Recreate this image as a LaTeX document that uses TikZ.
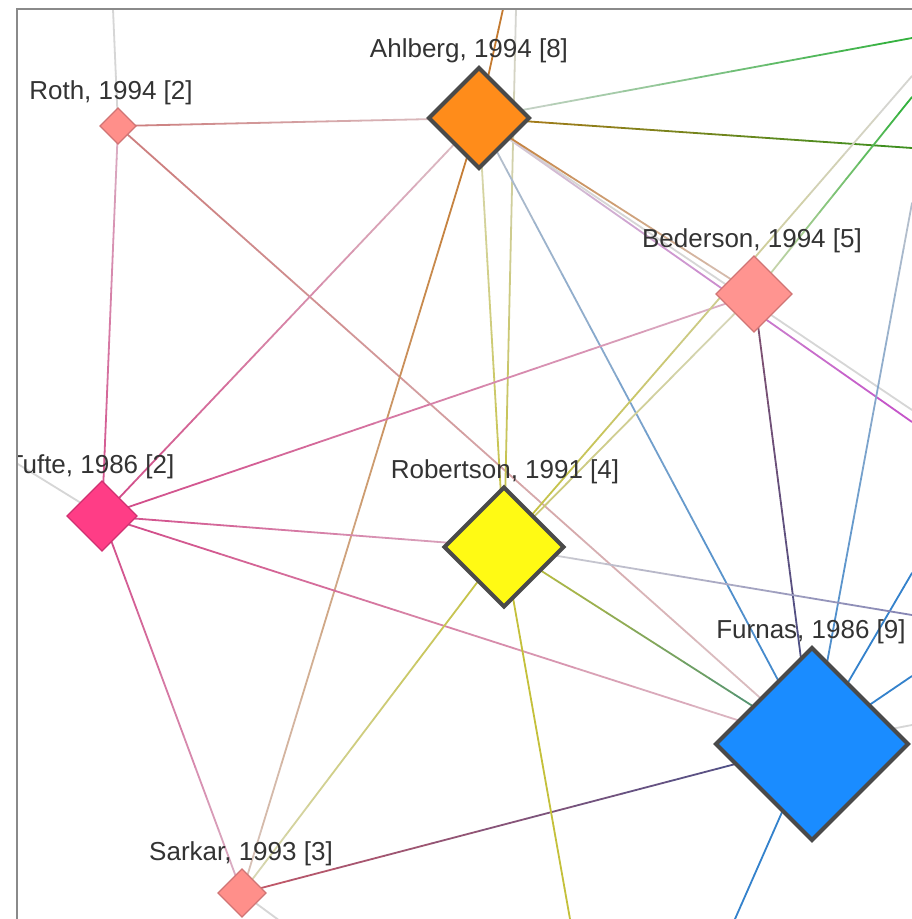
\documentclass[tikz,border=0pt]{standalone}
\usepackage{fontspec}
\setmainfont{Liberation Sans}
\usetikzlibrary{shapes.geometric,calc}

\definecolor{txt}{HTML}{333333}
\definecolor{framec}{HTML}{8A8A8A}
\definecolor{darkb}{HTML}{4A4A4A}
\definecolor{salmon}{HTML}{FF8F8A}
\definecolor{salmonb}{HTML}{D07474}
\definecolor{orangef}{HTML}{FF8C1A}
\definecolor{bedf}{HTML}{FF9490}
\definecolor{tuftef}{HTML}{FF3D86}
\definecolor{tufteb}{HTML}{D03070}
\definecolor{yellowf}{HTML}{FFFA14}
\definecolor{bluef}{HTML}{1A8CFF}
% edge colours
\definecolor{lg}{HTML}{D6D6D6}
\definecolor{redE}{HTML}{CC7C7C}
\definecolor{paleP}{HTML}{DCC4C8}
\definecolor{pinkE}{HTML}{D24A88}
\definecolor{palePink}{HTML}{DAB0C4}
\definecolor{brownE}{HTML}{C47A30}
\definecolor{paleBr}{HTML}{D8C4BC}
\definecolor{oliveE}{HTML}{C4C03A}
\definecolor{paleOl}{HTML}{D8D8B8}
\definecolor{greenE}{HTML}{2EB03A}
\definecolor{dgreenE}{HTML}{3A9020}
\definecolor{brown2}{HTML}{B07818}
\definecolor{purpE}{HTML}{C450C8}
\definecolor{blueE}{HTML}{3482CC}
\definecolor{paleBl}{HTML}{B8C0CC}
\definecolor{maroonE}{HTML}{84506E}
\definecolor{navyE}{HTML}{40508C}
\definecolor{redS}{HTML}{C45868}
\definecolor{tealE}{HTML}{3A8A80}
\definecolor{lavE}{HTML}{8484B4}

\tikzset{
  edge/.style={line width=1.8pt, line cap=round},
  dia/.style={shape=diamond, inner sep=0pt, outer sep=0pt, aspect=1,
              minimum width=#1, minimum height=#1},
  thinb/.style={line width=1.2pt},
  thickb/.style={draw=darkb, line width=4pt},
  lbl/.style={anchor=base, text=txt, inner sep=0pt,
              font=\fontsize{26}{30}\selectfont}
}

\newcommand{\gedge}[4]{%
  \foreach \kk in {0,...,11}{%
    \pgfmathsetmacro{\gA}{\kk/12}%
    \pgfmathsetmacro{\gB}{(\kk+1)/12}%
    \pgfmathtruncatemacro{\gP}{round(100-(\kk+0.5)*100/12)}%
    \draw[edge,color={#3!\gP!#4}] ($(#1)!\gA!(#2)$) -- ($(#1)!\gB!(#2)$);%
  }%
}

\begin{document}
\begin{tikzpicture}[x=1pt,y=-1pt]
\useasboundingbox (0,0) rectangle (912,919);
\fill[white] (0,0) rectangle (912,919);

% node centres
\coordinate (roth) at (118,126);
\coordinate (ahl) at (479,118);
\coordinate (bed) at (754,294);
\coordinate (tufte) at (102,516);
\coordinate (rob) at (504,547);
\coordinate (fur) at (812,744);
\coordinate (sar) at (242,893);
% free ends (nodes outside the view)
\coordinate (xRothUp) at (112.6,0);
\coordinate (xAhlUp) at (505,0);
\coordinate (xRobUp) at (516.2,0);
\coordinate (xG1) at (912,38);
\coordinate (xG2) at (912,148);
\coordinate (xGr) at (912,410);
\coordinate (xPu) at (912,422);
\coordinate (xRobR) at (912,76);
\coordinate (xBedR) at (912,97);
\coordinate (xF1) at (912,203);
\coordinate (xF2) at (912,573);
\coordinate (xF3) at (912,676);
\coordinate (xF4) at (912,725);
\coordinate (xFd) at (735,919);
\coordinate (xRobR2) at (912,615);
\coordinate (xRobD) at (570,919);
\coordinate (xTufL) at (0,453);
\coordinate (xSarD) at (280,921);

\begin{scope}
\clip (17,9) rectangle (912,919);

% edges
\gedge{roth}{xRothUp}{lg}{lg}
\gedge{roth}{ahl}{redE}{paleP}
\gedge{roth}{tufte}{palePink}{pinkE}
\gedge{roth}{fur}{redE}{paleP}
\gedge{ahl}{xAhlUp}{brownE}{brownE}
\gedge{ahl}{sar}{brownE}{paleBr}
\gedge{xRobUp}{rob}{lg}{oliveE}
\gedge{ahl}{xG1}{lg}{greenE}
\gedge{ahl}{xG2}{brown2}{dgreenE}
\gedge{ahl}{xGr}{lg}{lg}
\gedge{ahl}{xPu}{lg}{purpE}
\gedge{ahl}{bed}{brownE}{paleBr}
\gedge{ahl}{tufte}{paleP}{pinkE}
\gedge{ahl}{fur}{paleBl}{blueE}
\gedge{ahl}{rob}{paleOl}{oliveE}
\gedge{bed}{tufte}{palePink}{pinkE}
\gedge{bed}{rob}{paleOl}{oliveE!70!lg}
\gedge{rob}{xRobR}{oliveE}{lg}
\gedge{bed}{xBedR}{paleOl}{greenE}
\gedge{bed}{fur}{maroonE}{navyE}
\gedge{fur}{xF1}{blueE}{paleBl}
\gedge{fur}{xF2}{blueE}{blueE}
\gedge{fur}{xF3}{blueE}{blueE}
\gedge{fur}{xF4}{lg}{lg}
\gedge{fur}{xFd}{blueE}{blueE}
\gedge{sar}{fur}{redS}{navyE}
\gedge{tufte}{fur}{pinkE}{paleP}
\gedge{rob}{fur}{oliveE}{tealE}
\gedge{rob}{xRobR2}{lg}{lavE}
\gedge{rob}{xRobD}{oliveE}{oliveE}
\gedge{rob}{sar}{oliveE}{paleOl}
\gedge{rob}{tufte}{palePink}{pinkE}
\gedge{tufte}{sar}{pinkE}{palePink}
\gedge{tufte}{xTufL}{lg}{lg}
\gedge{sar}{xSarD}{lg}{lg}

% nodes
\node[dia=36, fill=salmon, draw=salmonb, thinb] (rothD) at (roth) {};
\node[dia=100, fill=orangef, thickb] (ahlD) at (ahl) {};
\node[dia=76, fill=bedf, draw=salmonb, thinb] (bedD) at (bed) {};
\node[dia=70, fill=tuftef, draw=tufteb, thinb] (tufteD) at (tufte) {};
\node[dia=119, fill=yellowf, thickb] (robD) at (rob) {};
\node[dia=192, fill=bluef, thickb] (furD) at (fur) {};
\node[dia=48, fill=salmon, draw=salmonb, thinb] (sarD) at (sar) {};

% labels
\node[lbl] (rothL) at (111,99) {Roth, 1994 [2]};
\node[lbl] (ahlL) at (469,57) {Ahlberg, 1994 [8]};
\node[lbl] (bedL) at (752,247) {Bederson, 1994 [5]};
\node[lbl] (tufteL) at (91,473) {Tufte, 1986 [2]};
\node[lbl] (robL) at (505,478) {Robertson, 1991 [4]};
\node[lbl] (furL) at (811,638) {Furnas, 1986 [9]};
\node[lbl] (sarL) at (241,860) {Sarkar, 1993 [3]};
\end{scope}

% frame
\draw[framec, line width=1.5pt] (17,919) -- (17,9) -- (912,9);
\end{tikzpicture}
\end{document}
